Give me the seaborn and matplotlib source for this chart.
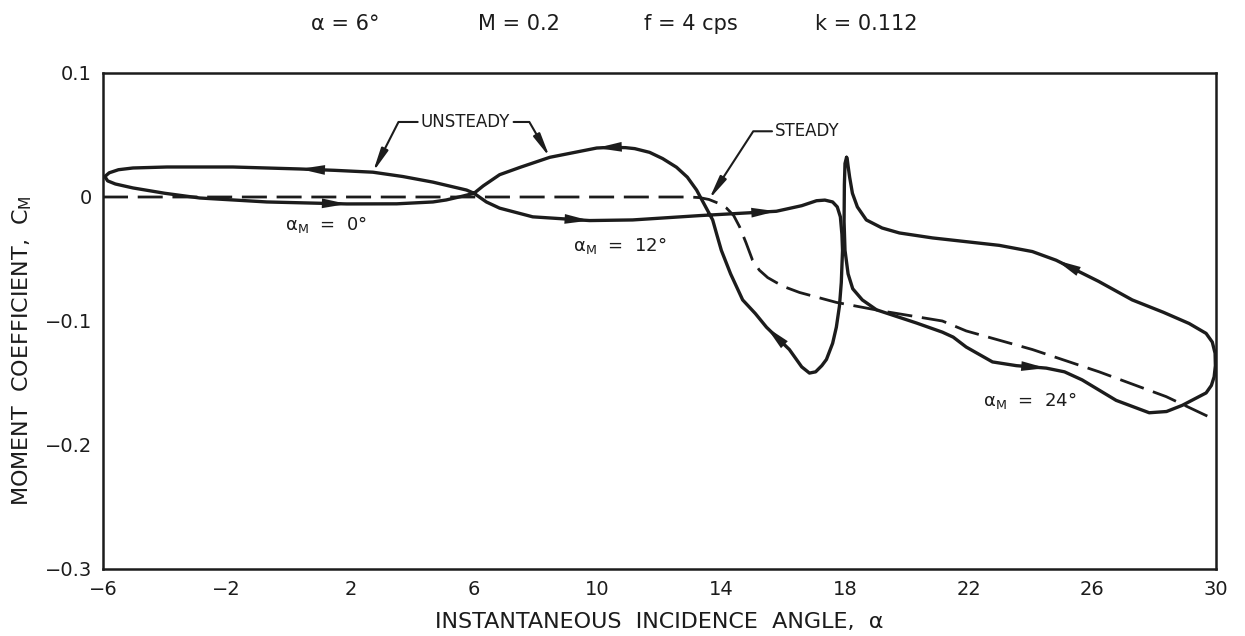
import pandas as pd
import seaborn as sns
import matplotlib.pyplot as plt

# 정상(steady) 곡선
steady_alpha = [-6.0, 4.0, 12.97, 13.3, 13.6, 13.9, 14.17, 14.4, 14.59, 14.8, 15.01, 15.23, 15.5,
                15.78, 16.1, 16.53, 17.72, 19.21, 21.15, 21.92, 24.06, 26.22, 28.39, 30.0]
steady_cm = [0.0, 0.0, 0.0, -0.0005, -0.002, -0.005, -0.009, -0.015, -0.024, -0.037, -0.051, -0.059, -0.065,
             -0.069, -0.073, -0.077, -0.085, -0.092, -0.100, -0.108, -0.123, -0.141, -0.161, -0.180]

# 비정상(unsteady) 루프, alpha_M = 0
loop0_alpha = [6.0, 5.76, 4.67, 3.7, 2.73, 1.5, 0.37, -1.8, -3.93, -5.03, -5.5, -5.8, -5.94,
               -5.85, -5.6, -5.03, -4.0, -2.87, -0.70, 1.89, 3.5, 4.67, 5.1, 5.6, 6.0]
loop0_cm = [0.003, 0.0056, 0.012, 0.0165, 0.020, 0.0215, 0.0226, 0.0242, 0.0242, 0.0234, 0.022, 0.0195, 0.0165,
            0.013, 0.0105, 0.0073, 0.003, -0.0008, -0.004, -0.0056, -0.0055, -0.004, -0.0024, 0.0005, 0.003]

# alpha_M = 12
loop12_alpha = [6.0, 6.4, 6.83, 7.9, 9.74, 11.13, 13.3, 15.78, 16.6, 17.08, 17.35, 17.6, 17.75,
                17.85, 17.9, 17.92, 17.88, 17.82, 17.72, 17.6, 17.4, 17.25, 17.05, 16.85, 16.6,
                16.2, 15.46, 15.1, 14.69, 14.3, 14.0, 13.85, 13.72, 13.45, 13.2, 12.9, 12.55,
                12.1, 11.68, 11.2, 10.9, 10.39, 9.97, 8.45, 7.5, 6.83, 6.3, 6.0]
loop12_cm = [0.003, -0.004, -0.009, -0.016, -0.019, -0.0185, -0.015, -0.0115, -0.007, -0.003, -0.0025, -0.004, -0.008,
             -0.016, -0.03, -0.043, -0.069, -0.088, -0.105, -0.118, -0.131, -0.136, -0.141, -0.142, -0.137,
             -0.123, -0.105, -0.094, -0.083, -0.062, -0.043, -0.03, -0.0185, -0.006, 0.0056, 0.016, 0.024,
             0.031, 0.036, 0.039, 0.0398, 0.040, 0.0395, 0.032, 0.024, 0.018, 0.009, 0.003]

# alpha_M = 24
loop24_alpha = [18.05, 18.0, 17.98, 17.97, 18.0, 18.1, 18.25, 18.56, 19.02, 20.31, 21.15, 21.5, 21.92,
                22.77, 23.54, 24.51, 25.1, 25.67, 26.77, 27.84, 28.4, 28.91, 29.68, 29.85, 29.94,
                29.98, 29.97, 29.88, 29.68, 29.13, 28.3, 27.29, 26.2, 24.83, 24.06, 22.99, 20.83, 19.76,
                19.2, 18.69, 18.4, 18.24, 18.15, 18.1, 18.07, 18.05]
loop24_cm = [0.032, 0.027, 0.01, -0.02, -0.043, -0.062, -0.074, -0.083, -0.091, -0.1016, -0.109, -0.113, -0.121,
             -0.133, -0.136, -0.138, -0.141, -0.1475, -0.164, -0.174, -0.173, -0.168, -0.158, -0.152, -0.145,
             -0.136, -0.126, -0.117, -0.110, -0.102, -0.093, -0.083, -0.068, -0.051, -0.044, -0.039, -0.033, -0.029,
             -0.025, -0.0185, -0.008, 0.003, 0.016, 0.025, 0.031, 0.032]

xticks = [-6, -2, 2, 6, 10, 14, 18, 22, 26, 30]
xtick_labels = ['−6', '−2', '2', '6', '10', '14', '18', '22', '26', '30']
yticks = [-0.3, -0.2, -0.1, 0.0, 0.1]
ytick_labels = ['−0.3', '−0.2', '−0.1', '0', '0.1']

ink = '#1c1c1c'

sns.set_theme(style='white')
plt.rcParams['font.family'] = ['DejaVu Sans']
plt.rcParams['mathtext.default'] = 'regular'

loops = pd.concat([
    pd.DataFrame({'alpha': loop0_alpha, 'cm': loop0_cm, 'loop': 0}),
    pd.DataFrame({'alpha': loop12_alpha, 'cm': loop12_cm, 'loop': 12}),
    pd.DataFrame({'alpha': loop24_alpha, 'cm': loop24_cm, 'loop': 24}),
], ignore_index=True)
steady = pd.DataFrame({'alpha': steady_alpha, 'cm': steady_cm})

fig = plt.figure(figsize=(12.45, 6.36), dpi=100)
ax = fig.add_axes([103 / 1245, 67 / 636, 1113 / 1245, 496 / 636])

sns.lineplot(data=steady, x='alpha', y='cm', sort=False, estimator=None, color=ink,
             lw=2.0, linestyle=(0, (9, 3.5)), ax=ax)
sns.lineplot(data=loops, x='alpha', y='cm', units='loop', sort=False, estimator=None,
             color=ink, lw=2.4, solid_joinstyle='round', ax=ax)

# 곡선 위 화살표 (진행 방향)
head = dict(arrowstyle='-|>,head_length=1.8,head_width=0.35', color=ink, lw=0.01,
            shrinkA=0, shrinkB=0, mutation_scale=10)
for xs, ys, idx in [(loop0_alpha, loop0_cm, [6, 19]),
                    (loop12_alpha, loop12_cm, [4, 7, 26, 42]),
                    (loop24_alpha, loop24_cm, [15, 33])]:
    for i in idx:
        ax.annotate('', xy=(xs[i], ys[i]), xytext=(xs[i - 1], ys[i - 1]), arrowprops=head)

# 라벨 / 지시선
leader = dict(arrowstyle='-|>,head_length=1.4,head_width=0.22', color=ink, lw=1.5,
              shrinkA=0, shrinkB=0, mutation_scale=10)
ax.annotate('UNSTEADY', xy=(loop0_alpha[4], loop0_cm[4]), xytext=(5.73, 0.0605),
            ha='center', va='center', fontsize=12, color=ink,
            arrowprops=dict(leader, connectionstyle='angle,angleA=0,angleB=63,rad=0'))
ax.annotate('UNSTEADY', xy=(loop12_alpha[43], loop12_cm[43]), xytext=(5.73, 0.0605),
            ha='center', va='center', fontsize=12, color='none',
            arrowprops=dict(leader, connectionstyle='angle,angleA=0,angleB=120,rad=0'))
ax.annotate('STEADY', xy=(steady_alpha[4], steady_cm[4]), xytext=(16.79, 0.053),
            ha='center', va='center', fontsize=12, color=ink,
            arrowprops=dict(leader, connectionstyle='angle,angleA=0,angleB=57,rad=0'))

ax.text(-0.1, -0.022, r'$\alpha_{M}$  =  0°', fontsize=13, color=ink, ha='left', va='center')
ax.text(9.2, -0.039, r'$\alpha_{M}$  =  12°', fontsize=13, color=ink, ha='left', va='center')
ax.text(22.45, -0.164, r'$\alpha_{M}$  =  24°', fontsize=13, color=ink, ha='left', va='center')

ax.set_xlim(-6, 30)
ax.set_ylim(-0.3, 0.1)
ax.set_xticks(xticks)
ax.set_xticklabels(xtick_labels)
ax.set_yticks(yticks)
ax.set_yticklabels(ytick_labels)
ax.tick_params(direction='in', length=14, width=1.5, pad=8, labelsize=14, colors=ink)
for s in ax.spines.values():
    s.set_color(ink)
    s.set_linewidth(1.8)

ax.set_xlabel('INSTANTANEOUS  INCIDENCE  ANGLE,  α', fontsize=16, color=ink, labelpad=9)
ax.set_ylabel('MOMENT  COEFFICIENT,  C$_{M}$', fontsize=16, color=ink)
ax.yaxis.set_label_coords(-0.062, 0.44)

# 상단 조건
for xc, txt in [(0.277, 'α = 6°'), (0.417, 'M = 0.2'), (0.555, 'f = 4 cps'), (0.696, 'k = 0.112')]:
    fig.text(xc, 0.962, txt, fontsize=15, color=ink, ha='center', va='center')

plt.savefig('out.png', dpi=100, facecolor='white')
plt.close()
